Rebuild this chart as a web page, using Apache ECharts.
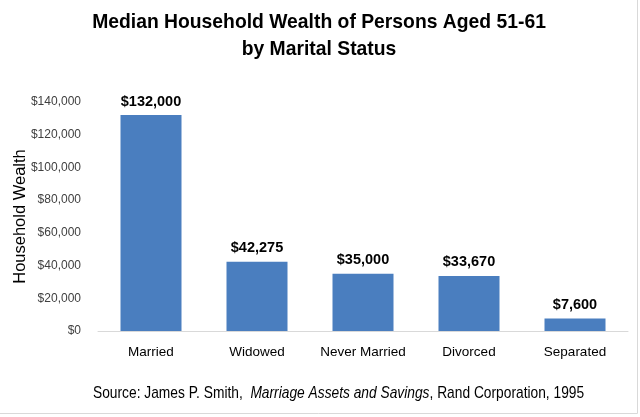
<!DOCTYPE html>
<html><head><meta charset="utf-8">
<script src="https://cdn.jsdelivr.net/npm/echarts@6/dist/echarts.min.js"></script>
<style>html,body{margin:0;padding:0;background:#fff}#c{width:640px;height:417px}</style>
</head><body><div id="c"></div>
<script>
const categories = ["Married", "Widowed", "Never Married", "Divorced", "Separated"];
const values = [132000, 42275, 35000, 33670, 7600];
const yTicks = [0, 20000, 40000, 60000, 80000, 100000, 120000, 140000];
const titleLines = ["Median Household Wealth of Persons Aged 51-61", "by Marital Status"];
const yName = "Household Wealth";
const sourceParts = ["Source: James P. Smith,  ", "Marriage Assets and Savings", ", Rand Corporation, 1995"];

const fmt = v => "$" + v.toLocaleString("en-US");
const F = "'Liberation Sans',Arial,sans-serif";
const chart = echarts.init(document.getElementById('c'), null, {renderer: 'canvas'});
chart.setOption({
  animation: false,
  backgroundColor: '#fff',
  grid: {left: 98, right: 12, top: 102, bottom: 86, outerBoundsMode: 'none', containLabel: false},
  xAxis: {
    type: 'category', data: categories,
    axisLine: {lineStyle: {color: '#d9d9d9'}},
    axisTick: {show: false},
    axisLabel: {color: '#000', fontSize: 13.5, fontFamily: F, margin: 14, interval: 0}
  },
  yAxis: {
    type: 'value', min: yTicks[0], max: yTicks[yTicks.length - 1], interval: 20000,
    name: yName, nameLocation: 'middle', nameGap: 69, nameRotate: 90, nameMoveOverlap: false,
    nameTextStyle: {color: '#000', fontSize: 16.5, fontFamily: F},
    splitLine: {show: false},
    axisLine: {show: false}, axisTick: {show: false},
    axisLabel: {color: '#404040', fontSize: 12, fontFamily: F, margin: 17, formatter: fmt}
  },
  series: [{
    type: 'bar', data: values, barWidth: 61,
    itemStyle: {color: '#4a7ebf'},
    label: {show: true, position: 'top', distance: 6, formatter: p => fmt(p.value),
      color: '#000', fontWeight: 'bold', fontSize: 14.5, fontFamily: F}
  }],
  graphic: [
    {type: 'text', x: 319, y: 9, scaleX: 0.92, style: {
      text: titleLines.join('\n'), textAlign: 'center',
      fontFamily: F, fontSize: 21, fontWeight: 'bold', fill: '#000', lineHeight: 27
    }},
    {type: 'text', x: 93, y: 385, scaleX: 0.81, style: {
      text: '{n|' + sourceParts[0] + '}{i|' + sourceParts[1] + '}{n|' + sourceParts[2] + '}',
      rich: {
        n: {fontFamily: F, fontSize: 17, fill: '#000'},
        i: {fontFamily: F, fontSize: 17, fontStyle: 'italic', fill: '#000'}
      }
    }},
    {type: 'line', shape: {x1: 637.5, y1: 0, x2: 637.5, y2: 413.5}, style: {stroke: '#d9d9d9', lineWidth: 1}},
    {type: 'line', shape: {x1: 0, y1: 413.5, x2: 637.5, y2: 413.5}, style: {stroke: '#d9d9d9', lineWidth: 1}}
  ]
});
</script></body></html>
